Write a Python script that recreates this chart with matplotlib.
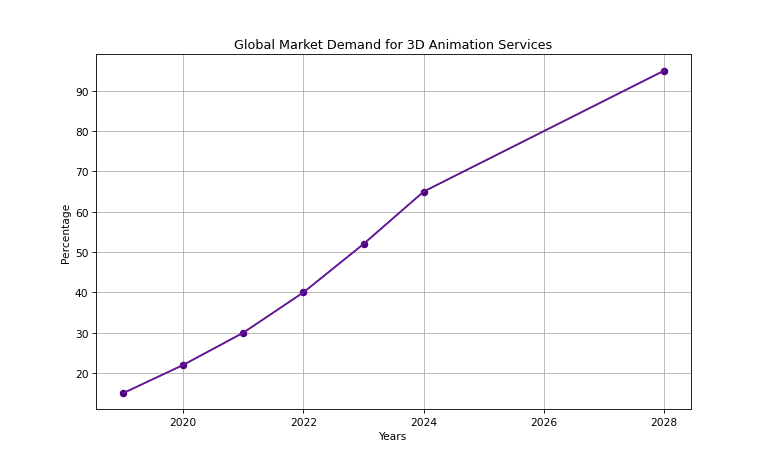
import matplotlib
matplotlib.use('Agg')
from matplotlib import pyplot as plt

years = [2019, 2020, 2021, 2022, 2023, 2024, 2028]
demand = [15, 22, 30, 40, 52, 65, 95]

plt.figure(figsize=(10, 6), dpi=76.8)
plt.plot(years, demand, marker='o', color='#4B0082', markerfacecolor='#4B0082',
         markeredgecolor='#4B0082', linestyle='-', linewidth=1.5)
plt.plot(years, demand, color='#6A1B9A', linewidth=1.5)
plt.title('Global Market Demand for 3D Animation Services')
plt.xlabel('Years')
plt.ylabel('Percentage')
plt.grid(True)

plt.savefig('out.png')
